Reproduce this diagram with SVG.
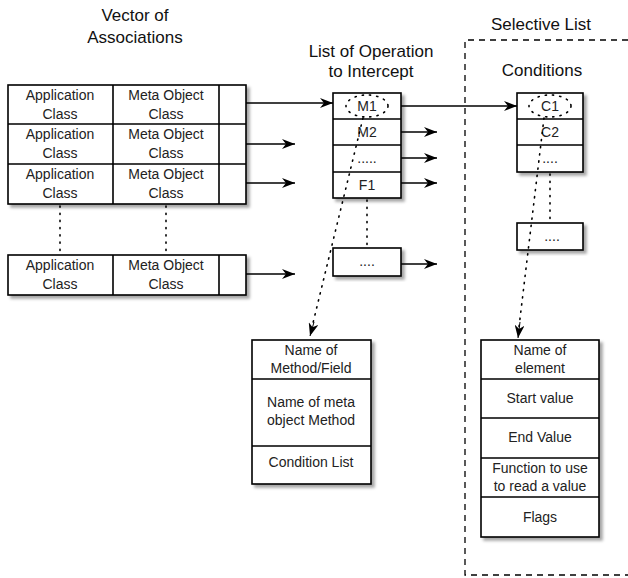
<svg xmlns="http://www.w3.org/2000/svg" width="628" height="578" viewBox="0 0 628 578">
<style>
.box{fill:#fff;stroke:#000;stroke-width:1.6}
.ln{stroke:#000;stroke-width:1.6;fill:none}
.dot{stroke:#000;stroke-width:1.6;fill:none;stroke-dasharray:1.2 6;stroke-linecap:round}
.dash{stroke:#000;stroke-width:1.3;fill:none;stroke-dasharray:6 5}
.t{font-family:"Liberation Sans",Arial,sans-serif;font-size:14px;fill:#222;text-anchor:middle}
.h{font-family:"Liberation Sans",Arial,sans-serif;font-size:17px;fill:#111;text-anchor:middle}
.arr{stroke:#000;stroke-width:1.7;fill:none;marker-end:url(#ah)}
.darr{marker-end:url(#ah)}
</style>
<defs>
<marker id="ah" markerUnits="userSpaceOnUse" markerWidth="14" markerHeight="10" refX="13" refY="5" orient="auto">
<path d="M0,0 L13,5 L0,10 L4,5 z" fill="#000"/>
</marker>
<filter id="sh" x="-10%" y="-10%" width="130%" height="130%">
<feDropShadow dx="3" dy="3" stdDeviation="1.5" flood-color="#000" flood-opacity="0.35"/>
</filter>
</defs>

<g id="titles">
<text class="h" x="135" y="21">Vector of</text>
<text class="h" x="135" y="43">Associations</text>
<text class="h" x="371" y="57">List of Operation</text>
<text class="h" x="371" y="77">to Intercept</text>
<text class="h" x="541" y="30">Selective List</text>
<text class="h" x="542" y="76">Conditions</text>
</g>

<g id="selective-list">
<path class="dash" d="M628,40 H465 V575 H628"/>
</g>

<g id="vector">
<rect class="box" x="8" y="85" width="238" height="119" filter="url(#sh)"/>
<path class="ln" d="M8,124 H246 M8,164 H246 M113,85 V204 M219,85 V204"/>
<text class="t" x="60" y="100">Application</text><text class="t" x="60" y="119">Class</text>
<text class="t" x="166" y="100">Meta Object</text><text class="t" x="166" y="119">Class</text>
<text class="t" x="60" y="139">Application</text><text class="t" x="60" y="158">Class</text>
<text class="t" x="166" y="139">Meta Object</text><text class="t" x="166" y="158">Class</text>
<text class="t" x="60" y="179">Application</text><text class="t" x="60" y="198">Class</text>
<text class="t" x="166" y="179">Meta Object</text><text class="t" x="166" y="198">Class</text>
</g>

<g id="vector-last">
<rect class="box" x="8" y="255" width="238" height="40" filter="url(#sh)"/>
<path class="ln" d="M113,255 V295 M219,255 V295"/>
<text class="t" x="60" y="270">Application</text><text class="t" x="60" y="289">Class</text>
<text class="t" x="166" y="270">Meta Object</text><text class="t" x="166" y="289">Class</text>
</g>

<g id="ops">
<rect class="box" x="333" y="93" width="68" height="105" filter="url(#sh)"/>
<path class="ln" d="M333,119 H401 M333,145 H401 M333,172 H401"/>
<text class="t" x="367" y="111">M1</text>
<text class="t" x="367" y="137">M2</text>
<text class="t" x="367" y="163">.....</text>
<text class="t" x="367" y="190">F1</text>
<ellipse class="dot" cx="367" cy="106" rx="21" ry="11"/>
</g>

<g id="ops-more">
<rect class="box" x="333" y="248" width="68" height="28" filter="url(#sh)"/>
<text class="t" x="367" y="266">....</text>
</g>

<g id="conds">
<rect class="box" x="517" y="93" width="66" height="79" filter="url(#sh)"/>
<path class="ln" d="M517,119 H583 M517,145 H583"/>
<text class="t" x="550" y="111">C1</text>
<text class="t" x="550" y="137">C2</text>
<text class="t" x="550" y="163">....</text>
<ellipse class="dot" cx="550" cy="106" rx="21" ry="11"/>
</g>

<g id="conds-more">
<rect class="box" x="517" y="223" width="66" height="27" filter="url(#sh)"/>
<text class="t" x="552" y="241">....</text>
</g>

<g id="method-entry">
<rect class="box" x="252" y="340" width="119" height="144" filter="url(#sh)"/>
<path class="ln" d="M252,379 H371 M252,446 H371"/>
<text class="t" x="311" y="355">Name of</text>
<text class="t" x="311" y="373">Method/Field</text>
<text class="t" x="311" y="407">Name of meta</text>
<text class="t" x="311" y="425">object Method</text>
<text class="t" x="311" y="467">Condition List</text>
</g>

<g id="condition-entry">
<rect class="box" x="481" y="340" width="118" height="197" filter="url(#sh)"/>
<path class="ln" d="M481,379 H599 M481,418 H599 M481,458 H599 M481,497 H599"/>
<text class="t" x="540" y="355">Name of</text>
<text class="t" x="540" y="373">element</text>
<text class="t" x="540" y="403">Start value</text>
<text class="t" x="540" y="442">End Value</text>
<text class="t" x="540" y="473">Function to use</text>
<text class="t" x="540" y="491">to read a value</text>
<text class="t" x="540" y="522">Flags</text>
</g>

<g id="connectors">
<path class="arr" d="M246,103 H333"/>
<path class="arr" d="M246,144 H295"/>
<path class="arr" d="M246,183 H295"/>
<path class="arr" d="M246,274 H295"/>
<path class="arr" d="M401,106 H517"/>
<path class="arr" d="M401,132 H437"/>
<path class="arr" d="M401,158 H437"/>
<path class="arr" d="M401,183 H437"/>
<path class="arr" d="M401,264 H437"/>
<path class="dot" d="M60,206 V253 M166,206 V253"/>
<path class="dot" d="M367,200 V247"/>
<path class="dot" d="M550,174 V222"/>
<path class="dot" d="M363,118 L312,327"/>
<path d="M314,322 L310,336" stroke="#000" stroke-width="1" class="darr" fill="none"/>
<path class="dot" d="M544,118 L519,327"/>
<path d="M520,322 L518,338" stroke="#000" stroke-width="1" class="darr" fill="none"/>
</g>
</svg>
